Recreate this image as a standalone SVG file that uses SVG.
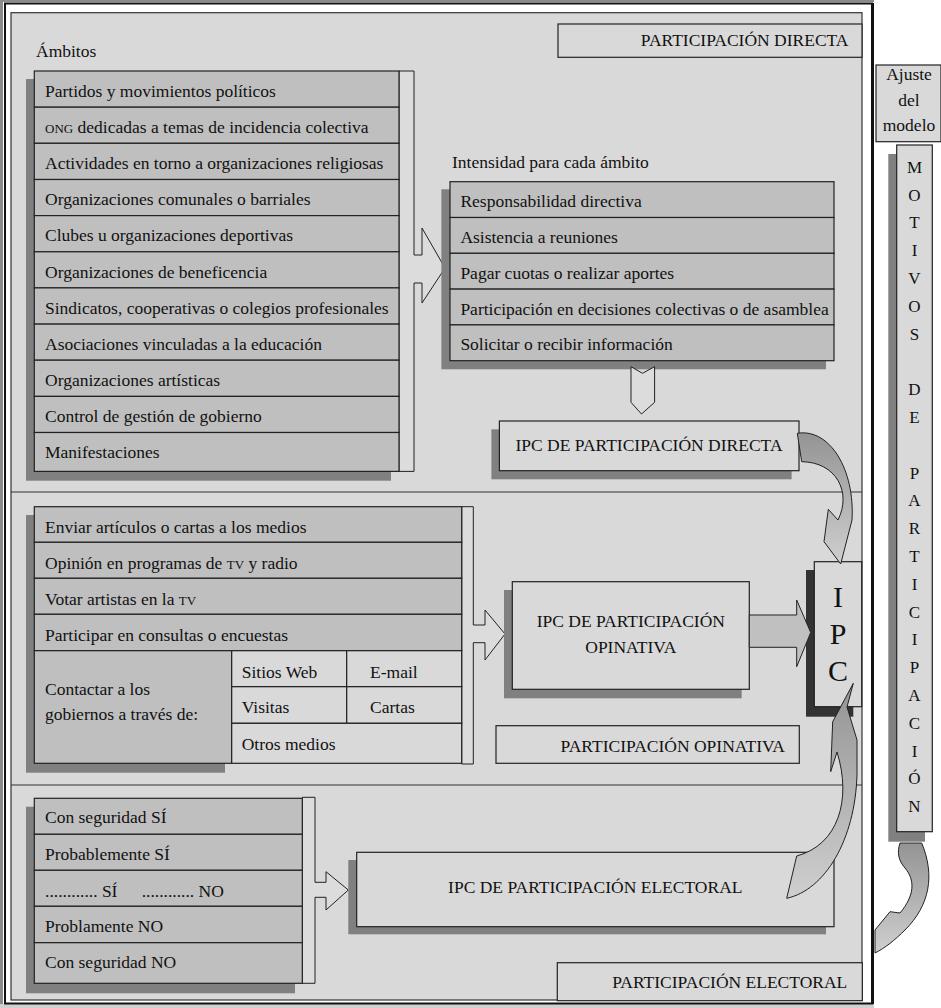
<svg xmlns="http://www.w3.org/2000/svg" width="941" height="1008" viewBox="0 0 941 1008">
<defs>
<style>
.t{font-family:"Liberation Serif","Times New Roman",serif;font-size:17.5px;fill:#111}
.sc{font-size:13px}
.c{text-anchor:middle}
.r{text-anchor:end}
.row{fill:#bfbfbf;stroke:#222;stroke-width:1.2}
.lt{fill:#d9d9d9;stroke:#222;stroke-width:1.2}
.sh{fill:#808080}
.dk{fill:#333}
.brk{fill:#dcdcdc;stroke:#222;stroke-width:1}
.big{fill:#c0c0c0;stroke:#222;stroke-width:1}
.crv{fill:url(#cg);stroke:#222;stroke-width:1}
.ipc{font-size:30px}
</style>
<linearGradient id="cg" x1="0" y1="0" x2="0" y2="1">
<stop offset="0" stop-color="#949494"/>
<stop offset="1" stop-color="#cfcfcf"/>
</linearGradient>
</defs>
<rect x="0" y="0" width="941" height="1008" fill="#fff"/>
<g id="frame">
<rect x="0" y="0" width="3" height="1008" fill="#8a8a8a"/>
<rect x="0" y="0" width="874" height="2" fill="#8a8a8a"/>
<rect x="0" y="1004" width="874" height="4" fill="#d0d0d0"/>
<rect x="5" y="3.5" width="867" height="1000" fill="none" stroke="#111" stroke-width="2"/>
<line x1="872.5" y1="3" x2="872.5" y2="1004" stroke="#111" stroke-width="3"/>
<rect x="11" y="12.7" width="851" height="987.3" fill="#d9d9d9" stroke="#333" stroke-width="1.2"/>
<line x1="11" y1="492" x2="862" y2="492" stroke="#333" stroke-width="1.2"/>
<line x1="11" y1="785" x2="862" y2="785" stroke="#333" stroke-width="1.2"/>
</g>
<g id="label-directa">
<rect x="558" y="24" width="304" height="33.3" class="lt"/>
<text x="848.5" y="45.7" class="t r">PARTICIPACIÓN DIRECTA</text>
</g>
<g id="ambitos">
<text x="36" y="57" class="t">Ámbitos</text>
<rect x="26" y="79" width="365" height="401.7" class="sh"/>
<path d="M399,71 H414 V255 H422 V228 L445,268 L422,303 V283 H414 V471.4 H399 Z" class="brk"/>
<rect x="34.3" y="71" width="364.7" height="36.2" class="row"/>
<rect x="34.3" y="107.2" width="364.7" height="36.1" class="row"/>
<rect x="34.3" y="143.3" width="364.7" height="36.2" class="row"/>
<rect x="34.3" y="179.5" width="364.7" height="36.1" class="row"/>
<rect x="34.3" y="215.6" width="364.7" height="36.2" class="row"/>
<rect x="34.3" y="251.8" width="364.7" height="36.1" class="row"/>
<rect x="34.3" y="287.9" width="364.7" height="36.2" class="row"/>
<rect x="34.3" y="324.1" width="364.7" height="36.1" class="row"/>
<rect x="34.3" y="360.2" width="364.7" height="36.2" class="row"/>
<rect x="34.3" y="396.4" width="364.7" height="36.1" class="row"/>
<rect x="34.3" y="432.5" width="364.7" height="38.9" class="row"/>
<text x="45" y="96.7" class="t">Partidos y movimientos políticos</text>
<text x="45" y="132.9" class="t"><tspan class="sc">ONG</tspan> dedicadas a temas de incidencia colectiva</text>
<text x="45" y="169" class="t">Actividades en torno a organizaciones religiosas</text>
<text x="45" y="205.2" class="t">Organizaciones comunales o barriales</text>
<text x="45" y="241.3" class="t">Clubes u organizaciones deportivas</text>
<text x="45" y="277.5" class="t">Organizaciones de beneficencia</text>
<text x="45" y="313.6" class="t">Sindicatos, cooperativas o colegios profesionales</text>
<text x="45" y="349.8" class="t">Asociaciones vinculadas a la educación</text>
<text x="45" y="385.9" class="t">Organizaciones artísticas</text>
<text x="45" y="422.1" class="t">Control de gestión de gobierno</text>
<text x="45" y="458.3" class="t">Manifestaciones</text>
</g>
<g id="intensidad">
<text x="452" y="168.3" class="t">Intensidad para cada ámbito</text>
<rect x="441.4" y="189.3" width="384.6" height="180" class="sh"/>
<rect x="450" y="181.7" width="384" height="35.8" class="row"/>
<rect x="450" y="217.5" width="384" height="35.8" class="row"/>
<rect x="450" y="253.3" width="384" height="35.8" class="row"/>
<rect x="450" y="289.1" width="384" height="35.8" class="row"/>
<rect x="450" y="324.9" width="384" height="35.8" class="row"/>
<text x="460.4" y="207.2" class="t">Responsabilidad directiva</text>
<text x="460.4" y="243" class="t">Asistencia a reuniones</text>
<text x="460.4" y="278.8" class="t">Pagar cuotas o realizar aportes</text>
<text x="460.4" y="314.6" class="t">Participación en decisiones colectivas o de asamblea</text>
<text x="460.4" y="350.4" class="t">Solicitar o recibir información</text>
</g>
<g id="ipc-directa">
<rect x="491.4" y="429.3" width="300.2" height="50" class="sh"/>
<rect x="499.4" y="421" width="299.6" height="49.7" class="lt"/>
<text x="649" y="451" class="t c">IPC DE PARTICIPACIÓN DIRECTA</text>
</g>
<g id="opinativa-list">
<rect x="26" y="515" width="199" height="257.7" class="sh"/>
<path d="M461.7,506.7 H473.3 V625 H485 V610 L505,634 L485,660 V642.7 H473.3 V764 H461.7 Z" class="brk"/>
<rect x="34.3" y="506.7" width="427.4" height="35.6" class="row"/>
<rect x="34.3" y="542.3" width="427.4" height="36" class="row"/>
<rect x="34.3" y="578.3" width="427.4" height="36" class="row"/>
<rect x="34.3" y="614.3" width="427.4" height="36.4" class="row"/>
<rect x="34.3" y="650.7" width="197.4" height="112.6" class="row"/>
<rect x="231.7" y="650.7" width="115" height="36" class="lt"/>
<rect x="346.7" y="650.7" width="115" height="36" class="lt"/>
<rect x="231.7" y="686.7" width="115" height="36.6" class="lt"/>
<rect x="346.7" y="686.7" width="115" height="36.6" class="lt"/>
<rect x="231.7" y="723.3" width="230" height="40" class="lt"/>
<text x="45" y="533" class="t">Enviar artículos o cartas a los medios</text>
<text x="45" y="568.5" class="t">Opinión en programas de <tspan class="sc">TV</tspan> y radio</text>
<text x="45" y="604.5" class="t">Votar artistas en la <tspan class="sc">TV</tspan></text>
<text x="45" y="640.5" class="t">Participar en consultas o encuestas</text>
<text x="45" y="695" class="t">Contactar a los</text>
<text x="45" y="720" class="t">gobiernos a través de:</text>
<text x="241.7" y="677.5" class="t">Sitios Web</text>
<text x="370" y="677.5" class="t">E-mail</text>
<text x="241.7" y="713.3" class="t">Visitas</text>
<text x="370" y="713.3" class="t">Cartas</text>
<text x="241.7" y="750" class="t">Otros medios</text>
</g>
<g id="ipc-opinativa">
<rect x="504" y="590" width="237.7" height="108.3" class="sh"/>
<rect x="512.3" y="581.7" width="237" height="107.6" class="lt"/>
<text x="630.8" y="627.3" class="t c">IPC DE PARTICIPACIÓN</text>
<text x="630.8" y="652.7" class="t c">OPINATIVA</text>
</g>
<g id="label-opinativa">
<rect x="496" y="725.7" width="303.3" height="37.6" class="lt"/>
<text x="785" y="751.7" class="t r">PARTICIPACIÓN OPINATIVA</text>
</g>
<g id="ipc">
<rect x="806" y="570" width="47.3" height="146.7" class="dk"/>
<rect x="814.3" y="561.7" width="47.4" height="145" class="lt"/>
<text x="838" y="607.3" class="t c ipc">I</text>
<text x="838" y="644" class="t c ipc">P</text>
<text x="838" y="680.7" class="t c ipc">C</text>
</g>
<g id="electoral-list">
<rect x="26" y="806.7" width="269" height="186.6" class="sh"/>
<path d="M302.3,797.3 H315 V882.3 H326 V871.7 L348.3,890 L326,910 V897.3 H315 V983.3 H302.3 Z" class="brk"/>
<rect x="34.3" y="798.3" width="268" height="36" class="row"/>
<rect x="34.3" y="834.3" width="268" height="36" class="row"/>
<rect x="34.3" y="870.3" width="268" height="36" class="row"/>
<rect x="34.3" y="906.3" width="268" height="36.4" class="row"/>
<rect x="34.3" y="942.7" width="268" height="40.6" class="row"/>
<text x="45" y="823.3" class="t">Con seguridad SÍ</text>
<text x="45" y="860.2" class="t">Probablemente SÍ</text>
<text x="45" y="896.5" class="t">............ SÍ</text>
<text x="141.7" y="896.5" class="t">............ NO</text>
<text x="45" y="932.3" class="t">Problamente NO</text>
<text x="45" y="968.3" class="t">Con seguridad NO</text>
</g>
<g id="ipc-electoral">
<rect x="348.3" y="860" width="477.7" height="74.3" class="sh"/>
<rect x="356.7" y="852.3" width="477.3" height="74.4" class="lt"/>
<text x="595.3" y="893.3" class="t c">IPC DE PARTICIPACIÓN ELECTORAL</text>
</g>
<g id="label-electoral">
<rect x="557.3" y="962.7" width="305" height="38" class="lt"/>
<text x="847.3" y="988" class="t r">PARTICIPACIÓN ELECTORAL</text>
</g>
<g id="ajuste">
<rect x="876" y="65" width="65" height="76.7" class="lt"/>
<text x="909" y="80" class="t c">Ajuste</text>
<text x="909" y="106" class="t c">del</text>
<text x="909" y="131" class="t c">modelo</text>
</g>
<g id="motivos">
<rect x="888.3" y="154" width="36.7" height="687.7" class="sh"/>
<rect x="896.7" y="145" width="35.6" height="686.7" class="lt"/>
<g class="t c" style="font-size:17px">
<text x="914.5" y="172.7">M</text>
<text x="914.5" y="200.5">O</text>
<text x="914.5" y="228.3">T</text>
<text x="914.5" y="256.1">I</text>
<text x="914.5" y="283.9">V</text>
<text x="914.5" y="311.7">O</text>
<text x="914.5" y="339.5">S</text>
<text x="914.5" y="395.1">D</text>
<text x="914.5" y="422.9">E</text>
<text x="914.5" y="478.5">P</text>
<text x="914.5" y="506.3">A</text>
<text x="914.5" y="534.1">R</text>
<text x="914.5" y="561.9">T</text>
<text x="914.5" y="589.7">I</text>
<text x="914.5" y="617.5">C</text>
<text x="914.5" y="645.3">I</text>
<text x="914.5" y="673.1">P</text>
<text x="914.5" y="700.9">A</text>
<text x="914.5" y="728.7">C</text>
<text x="914.5" y="756.5">I</text>
<text x="914.5" y="784.3">Ó</text>
<text x="914.5" y="812.1">N</text>
</g>
</g>
<g id="connectors">
<path d="M631,366.7 L642.5,373.3 L654.6,366.7 V402.3 L641.5,414 L631,402.3 Z" class="brk"/>
<path d="M749.3,615 H796.7 V600 L810.7,632.5 L796.7,666.7 V647.3 H749.3 Z" class="big"/>
<path d="M797.3,433.3 C830,428 855,470 852,520 L840.7,564 L824,541.7 L828.3,509.3 L838,520 C852,492 836,462 801.7,461.7 Z" class="crv"/>
<path d="M786.7,898.3 C825,890 855,840 857,775 L857,740 L847,707 L853.3,683.3 L832.7,721.7 L830.7,771.7 L837,752 C852,800 838,845 796.7,856 Z" class="crv"/>
<path d="M900,843 H921.7 C935,875 930,905 905,930 C895,940 885,948 875,953 L875,930 L890,911.7 L900,913 C915,895 915,880 905,868 C898,860 897,852 900,843 Z" class="crv"/>
</g>
</svg>
